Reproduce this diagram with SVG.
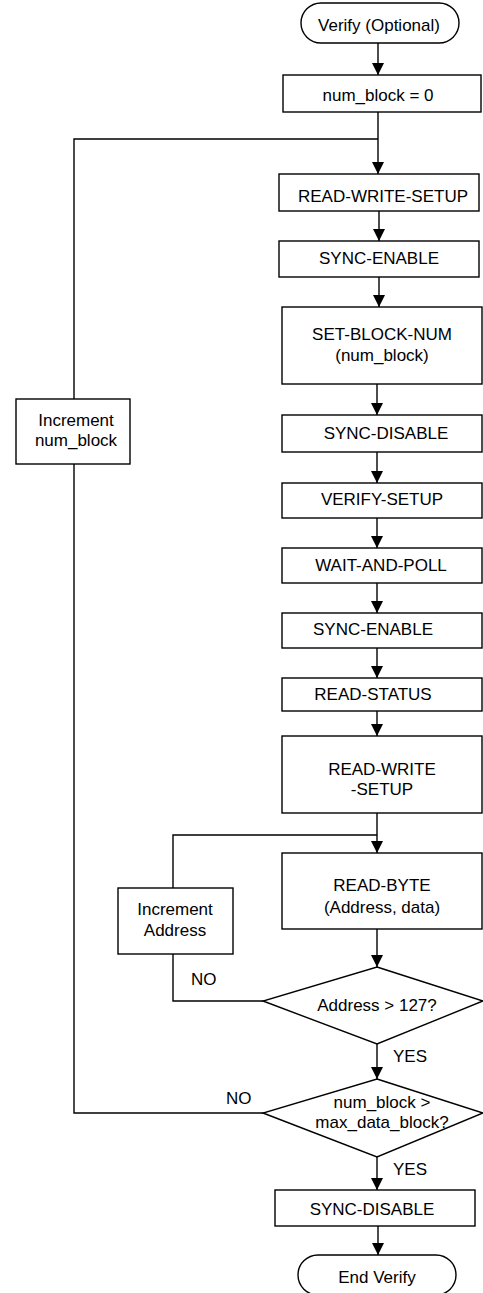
<svg xmlns="http://www.w3.org/2000/svg" width="483" height="1293" viewBox="0 0 483 1293">
<style>
.n{fill:#fff;stroke:#000;stroke-width:1.4}
.t{font-family:"Liberation Sans",Arial,sans-serif;font-size:17px;fill:#000;text-anchor:middle}
.l{font-family:"Liberation Sans",Arial,sans-serif;font-size:17px;fill:#000}
.c{fill:none;stroke:#000;stroke-width:1.4}
.a{marker-end:url(#ah)}
</style>
<defs>
<marker id="ah" markerUnits="userSpaceOnUse" markerWidth="12" markerHeight="13" refX="12" refY="6" orient="auto" viewBox="0 0 12 12">
<path d="M0,0 L12,6 L0,12 Z" fill="#000"/>
</marker>
</defs>
<rect width="483" height="1293" fill="#fff"/>
<g id="connectors">
<path class="c a" d="M378,43 V75"/>
<path class="c a" d="M378,112 V174"/>
<path class="c" d="M263,1113 H74 V464"/>
<path class="c" d="M74,399 V139 H378"/>
<path class="c a" d="M379,211 V241"/>
<path class="c a" d="M379,277 V307"/>
<path class="c a" d="M377,384 V415"/>
<path class="c a" d="M377,452 V483"/>
<path class="c a" d="M377,518 V548"/>
<path class="c a" d="M377,583 V613"/>
<path class="c a" d="M377,648 V678"/>
<path class="c a" d="M377,711 V736"/>
<path class="c a" d="M377,813 V853"/>
<path class="c" d="M263,1001 H173 V954"/>
<path class="c" d="M173,888 V835 H377"/>
<path class="c a" d="M377,929 V967"/>
<path class="c a" d="M377,1044 V1079"/>
<path class="c a" d="M377,1157 V1190"/>
<path class="c a" d="M378,1226 V1255"/>
</g>
<g id="start"><rect class="n" x="301" y="3" width="158" height="40" rx="20"/><text class="t" x="379" y="31">Verify (Optional)</text></g>
<g id="init"><rect class="n" x="283" y="75" width="198" height="37"/><text class="t" x="378" y="101">num_block = 0</text></g>
<g id="rws1"><rect class="n" x="279" y="174" width="200" height="37"/><text class="t" x="383" y="202">READ-WRITE-SETUP</text></g>
<g id="se1"><rect class="n" x="279" y="241" width="200" height="36"/><text class="t" x="379" y="264">SYNC-ENABLE</text></g>
<g id="sbn"><rect class="n" x="282" y="307" width="200" height="77"/><text class="t" x="382" y="340">SET-BLOCK-NUM</text><text class="t" x="382" y="361">(num_block)</text></g>
<g id="sd1"><rect class="n" x="282" y="415" width="200" height="37"/><text class="t" x="386" y="439">SYNC-DISABLE</text></g>
<g id="vs"><rect class="n" x="282" y="483" width="200" height="35"/><text class="t" x="382" y="505">VERIFY-SETUP</text></g>
<g id="wap"><rect class="n" x="282" y="548" width="200" height="35"/><text class="t" x="381" y="571">WAIT-AND-POLL</text></g>
<g id="se2"><rect class="n" x="282" y="613" width="200" height="35"/><text class="t" x="373" y="635">SYNC-ENABLE</text></g>
<g id="rs"><rect class="n" x="282" y="678" width="200" height="33"/><text class="t" x="373" y="700">READ-STATUS</text></g>
<g id="rws2"><rect class="n" x="282" y="736" width="200" height="77"/><text class="t" x="382" y="775">READ-WRITE</text><text class="t" x="382" y="795">-SETUP</text></g>
<g id="rb"><rect class="n" x="282" y="853" width="200" height="76"/><text class="t" x="382" y="891">READ-BYTE</text><text class="t" x="382" y="913">(Address, data)</text></g>
<g id="incaddr"><rect class="n" x="118" y="888" width="115" height="66"/><text class="t" x="175" y="915">Increment</text><text class="t" x="175" y="936">Address</text></g>
<g id="incnum"><rect class="n" x="16" y="399" width="114" height="65"/><text class="t" x="76" y="426">Increment</text><text class="t" x="76" y="446">num_block</text></g>
<g id="d1"><polygon class="n" points="377,967 483,1001 377,1044 263,1001"/><text class="t" x="377" y="1011">Address &gt; 127?</text></g>
<g id="d2"><polygon class="n" points="377,1079 483,1113 377,1157 263,1113"/><text class="t" x="382" y="1108">num_block &gt;</text><text class="t" x="382" y="1128">max_data_block?</text></g>
<g id="sd2"><rect class="n" x="275" y="1190" width="200" height="36"/><text class="t" x="372" y="1215">SYNC-DISABLE</text></g>
<g id="end"><rect class="n" x="298" y="1255" width="158" height="40" rx="20"/><text class="t" x="377" y="1283">End Verify</text></g>
<g id="labels">
<text class="l" x="191" y="985">NO</text>
<text class="l" x="393" y="1062">YES</text>
<text class="l" x="226" y="1104">NO</text>
<text class="l" x="393" y="1175">YES</text>
</g>
</svg>
